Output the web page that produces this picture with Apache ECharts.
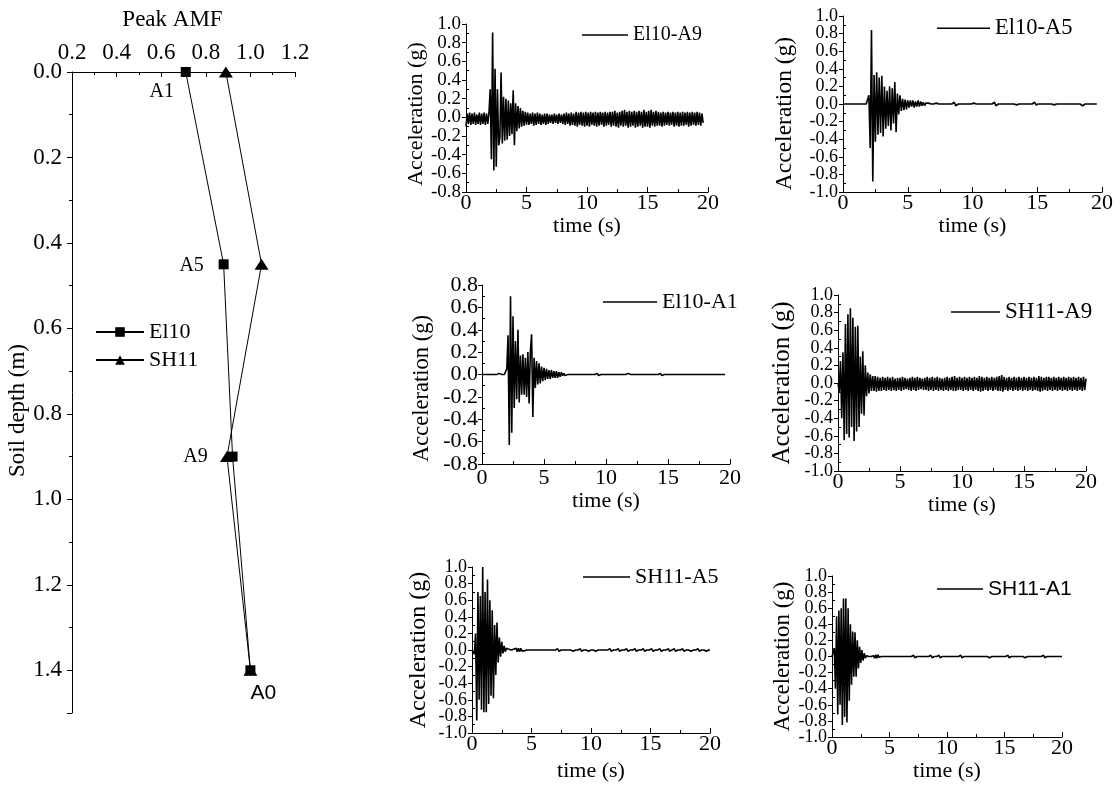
<!DOCTYPE html>
<html>
<head>
<meta charset="utf-8">
<script src="https://cdn.jsdelivr.net/npm/echarts@6/dist/echarts.min.js"></script>
<style>
html,body{margin:0;padding:0;background:#fff;}
#chart{width:1120px;height:785px;}
</style>
</head>
<body>
<div id="chart"></div>
<script>
const SERIF = 'Liberation Serif';
const SANS = 'Liberation Sans';

// ---------- Left panel: peak AMF profile ----------
const depths = [0, 0.45, 0.9, 1.4];            // soil depth (m)
const pointNames = ['A1', 'A5', 'A9', 'A0'];
const amfEl10 = [0.71, 0.88, 0.92, 1.0];
const amfSH11 = [0.89, 1.05, 0.895, 1.0];

// ---------- Acceleration records (values in 0.01 g, sampled every DT s) ----------
const DT = 0.1;
const el10A9 = [
-10,4,-7,5,-8,4,-7,5,-8,3,
-7,5,-8,4,-7,5,-8,4,-7,5,
30,-45,91,-57,52,-53,30,-30,-22,48,
-28,22,-25,20,-24,18,-20,15,-18,29,
-30,15,-15,12,-12,10,-10,7,-9,6,
-8,5,-8,4,-7,5,-9,4,-8,5,
-7,4,-8,3,-7,4,-8,4,-7,3,
-6,3,-7,4,-6,3,-7,4,-6,3,
-7,4,-8,5,-7,4,-9,5,-8,4,
-9,6,-10,5,-8,6,-9,5,-10,6,
-9,5,-10,6,-8,5,-9,6,-10,5,
-9,6,-8,5,-10,6,-9,5,-8,6,
-10,6,-9,7,-10,5,-11,6,-9,7,
-10,8,-9,6,-11,7,-10,6,-9,7,
-11,6,-10,7,-9,6,-11,8,-10,6,
-10,7,-11,8,-9,6,-10,7,-9,6,
-9,5,-10,6,-9,5,-8,6,-9,5,
-8,6,-10,5,-9,6,-10,5,-9,6,
-9,5,-8,6,-10,5,-9,6,-8,5,
-9,6,-8,5,-9,4,-6
];
const el10A5 = [
0,0,0,0,0,0,0,0,0,0,
0,0,0,0,0,1,0,0,0,0,
10,-50,84,-88,33,-43,36,-35,30,-33,
32,-37,20,-28,15,-25,20,-30,18,-22,
25,-32,12,-12,10,-8,6,-7,5,-6,
4,-4,4,-3,4,-4,3,-3,4,-3,
3,-2,2,-2,1,-1,1,-1,0,0,
0,0,1,-1,0,0,0,0,0,0,
0,0,0,0,0,0,2,-2,0,0,
0,0,0,0,0,0,0,0,0,0,
0,1,-1,0,0,0,0,0,0,0,
0,0,0,0,0,0,0,2,-2,0,
0,0,0,0,0,0,0,0,0,0,
0,0,0,1,-1,0,0,0,0,0,
0,0,0,0,0,0,0,0,2,-1,
0,0,0,0,0,0,0,0,0,0,
0,0,1,-1,0,0,0,0,0,0,
0,0,0,0,0,0,0,0,0,0,
0,0,0,0,2,-2,0,0,0,0,
0,0,0,0,0,0,0
];
const el10A1 = [
0,0,0,0,0,0,0,0,0,0,
0,0,0,0,1,0,0,0,0,0,
5,35,-63,70,-52,52,-30,30,-22,40,
-25,17,-18,18,-18,15,-20,20,-26,20,
36,-38,15,-12,12,-9,10,-8,7,-6,
6,-5,5,-4,4,-4,4,-3,3,-3,
3,-3,2,-2,2,-1,1,-1,0,0,
0,0,0,0,0,0,1,0,0,0,
0,0,0,0,0,0,0,0,0,0,
0,0,0,1,-1,0,0,0,0,0,
0,0,0,0,0,0,0,0,0,0,
0,0,0,0,0,0,0,0,1,0,
0,0,0,0,0,0,0,0,0,0,
0,0,0,0,0,0,0,0,0,0,
0,0,0,0,1,-1,0,0,0,0,
0,0,0,0,0,0,0,0,0,0,
0,0,0,0,0,0,0,0,0,0,
0,0,1,0,0,0,0,0,0,0,
0,0,0,0,0,0,0,0,0,0,
0,0,0,0,0,0,0
];
const sh11A9 = [
0,-10,25,-40,35,-65,67,-58,78,-62,
85,-50,74,-66,64,-55,65,-50,30,-35,
36,-37,20,-15,12,-12,10,-9,8,-9,
8,-10,7,-9,6,-9,7,-8,6,-9,
7,-8,6,-9,7,-8,5,-9,6,-8,
6,-9,7,-8,6,-7,5,-8,6,-9,
7,-8,6,-9,7,-8,6,-7,5,-8,
6,-8,7,-9,6,-8,7,-9,6,-8,
7,-9,6,-8,5,-9,6,-8,7,-9,
6,-8,7,-9,8,-9,6,-8,7,-8,
6,-9,7,-8,6,-9,7,-8,6,-9,
7,-8,6,-9,8,-10,7,-9,6,-8,
7,-9,6,-8,7,-9,6,-8,7,-9,
8,-9,9,-10,7,-8,6,-9,7,-8,
6,-9,7,-8,6,-9,7,-8,6,-9,
7,-8,6,-9,7,-8,6,-9,7,-8,
6,-9,8,-10,7,-9,6,-8,7,-9,
7,-8,6,-9,7,-8,6,-9,7,-8,
6,-9,7,-8,6,-9,7,-8,6,-9,
7,-8,6,-9,7,-8,6,-9,7,-8,
5
];
const sh11A5 = [
0,1,-5,20,-85,70,-60,65,-72,100,
-75,70,-75,85,-65,60,-55,48,-58,30,
-30,33,-15,15,-8,10,-4,5,-2,2,
0,1,-1,0,0,1,-1,2,-2,2,
-2,2,-1,1,-1,0,0,0,0,0,
0,0,0,0,0,0,0,0,0,0,
0,0,0,0,0,0,0,0,0,0,
0,0,1.5,-1.5,0,0,0,0,0,0,
0,0,0,0,1.5,-1.5,0,0,0,0,
0,1.5,-1.5,0,0,0,0,1.5,-1.5,0,
0,0,0,1.5,-1.5,0,0,0,0,0,
0,0,0,0,0,0,1.5,-1.5,0,0,
0,0,0,1.5,-1.5,0,0,0,0,0,
1.5,-1.5,0,0,0,0,0,1.5,-1.5,0,
0,0,0,0,1.5,-1.5,0,0,0,0,
0,1.5,-1.5,0,0,0,0,0,1.5,-1.5,
0,0,0,0,0,1.5,-1.5,0,0,0,
1.5,-1.5,0,0,0,0,0,1.5,-1.5,0,
0,0,0,1.5,-1.5,0,0,0,0,0,
1.5,-1.5,0,0,0,0,1.5,-1.5,0,0,
0
];
const sh11A1 = [
0,-1,10,-40,50,-72,57,-60,60,-85,
72,-75,72,-82,60,-55,40,-35,31,-25,
30,-25,20,-15,12,-8,8,-5,4,-2,
1,-1,0,0,0,0,1,-2,2,-2,
2,-1,1,0,0,0,0,0,0,0,
0,0,0,0,0,0,0,0,0,0,
0,0,0,0,0,0,0,0,0,0,
0,1.5,-1.5,0,0,0,0,0,0,0,
0,0,0,0,0,0,1.5,-1.5,0,0,
0,0,0,1.5,-1.5,0,0,0,0,0,
0,0,0,0,0,0,0,0,0,0,
0,0,1.5,-1.5,0,0,0,0,0,0,
0,0,0,0,0,0,0,0,0,0,
0,0,0,0,0,0,1.5,-1.5,0,0,
0,0,0,0,0,0,0,0,0,0,
0,0,0,1.5,-1.5,0,0,0,0,0,
0,0,0,0,0,0,0,1.5,-1.5,0,
0,0,0,0,0,0,0,0,0,0,
0,0,0,0,1.5,-1.5,0,0,0,0,
0,0,0,0,0,0,0,0,0,0,
0
];

// ---------- Layout of the six record panels ----------
const panels = [
  { name: 'El10-A9', values: el10A9, yMin: -0.8, yMax: 1.0,
    grid: { left: 466, top: 24, width: 242, height: 168 },
    yLabelFont: 19, yLabelMargin: 5, xLabelMargin: 0, yNameFont: 22, yNameGap: 39, yNameShift: 12, xNameGap: 17,
    legendLeft: 582, legendY: 35, legendW: 46, legendFont: 20, legendFamily: SERIF },
  { name: 'El10-A5', values: el10A5, yMin: -1.0, yMax: 1.0,
    grid: { left: 843, top: 16, width: 259, height: 176 },
    yLabelFont: 18, yLabelMargin: 5, xLabelMargin: 0, yNameFont: 23.5, yNameGap: 46, yNameShift: 19, xNameGap: 18,
    legendLeft: 937, legendY: 28, legendW: 53, legendFont: 22.5, legendFamily: SERIF },
  { name: 'El10-A1', values: el10A1, yMin: -0.8, yMax: 0.8,
    grid: { left: 482, top: 285, width: 248, height: 179 },
    yLabelFont: 22, yLabelMargin: 4, xLabelMargin: 3, yNameFont: 22.5, yNameGap: 48, yNameShift: 28, xNameGap: 20,
    legendLeft: 603, legendY: 302, legendW: 54, legendFont: 22, legendFamily: SERIF },
  { name: 'SH11-A9', values: sh11A9, yMin: -1.0, yMax: 1.0,
    grid: { left: 838, top: 295, width: 248, height: 176 },
    yLabelFont: 18, yLabelMargin: 5, xLabelMargin: 0, yNameFont: 25, yNameGap: 43, yNameShift: 0, xNameGap: 14,
    legendLeft: 951, legendY: 312, legendW: 49, legendFont: 23, legendFamily: SERIF },
  { name: 'SH11-A5', values: sh11A5, yMin: -1.0, yMax: 1.0,
    grid: { left: 472, top: 567, width: 238, height: 166 },
    yLabelFont: 18, yLabelMargin: 5, xLabelMargin: 0, yNameFont: 24, yNameGap: 41, yNameShift: 0, xNameGap: 27,
    legendLeft: 583, legendY: 577, legendW: 47, legendFont: 22, legendFamily: SERIF },
  { name: 'SH11-A1', values: sh11A1, yMin: -1.0, yMax: 1.0,
    grid: { left: 832, top: 576, width: 230, height: 161 },
    yLabelFont: 18, yLabelMargin: 5, xLabelMargin: 0, yNameFont: 23, yNameGap: 38, yNameShift: 0, xNameGap: 22,
    legendLeft: 937, legendY: 589, legendW: 46, legendFont: 21, legendFamily: SANS }
];

const BLACK = '#000';
const fmt1 = v => (Math.abs(v) < 1e-9 ? 0 : v).toFixed(1);
const isMultiple = (v, step) => Math.abs(v / step - Math.round(v / step)) < 1e-6;
const toPairs = cg => cg.map((v, i) => [Math.round(i * DT * 10) / 10, v / 100]);

const grids = [{ left: 72, top: 72, width: 223, height: 641, containLabel: false, outerBoundsMode: 'none' }]
  .concat(panels.map(p => Object.assign({ containLabel: false, outerBoundsMode: 'none' }, p.grid)));

const xAxes = [{
  gridIndex: 0, type: 'value', position: 'top', min: 0.2, max: 1.2, interval: 0.2,
  name: 'Peak AMF', nameLocation: 'middle', nameGap: 41,
  nameTextStyle: { fontFamily: SERIF, fontSize: 23, color: BLACK, padding: [0, 22, 0, 0] },
  axisLine: { show: true, onZero: false, lineStyle: { color: BLACK, width: 1 } },
  axisTick: { show: true, inside: true, length: 5, lineStyle: { color: BLACK } },
  minorTick: { show: true, splitNumber: 2, length: 3, lineStyle: { color: BLACK } },
  axisLabel: { fontFamily: SERIF, fontSize: 23, color: BLACK, margin: 8, formatter: fmt1,
    showMinLabel: true, showMaxLabel: true },
  splitLine: { show: false }, minorSplitLine: { show: false }
}].concat(panels.map((p, i) => ({
  gridIndex: i + 1, type: 'value', position: 'bottom', min: 0, max: 20, interval: 5,
  name: 'time (s)', nameLocation: 'middle', nameGap: p.xNameGap,
  nameTextStyle: { fontFamily: SERIF, fontSize: 22, color: BLACK },
  axisLine: { show: true, onZero: false, lineStyle: { color: BLACK, width: 1 } },
  axisTick: { show: true, inside: true, length: 5, lineStyle: { color: BLACK } },
  minorTick: { show: true, splitNumber: 2, length: 3, lineStyle: { color: BLACK } },
  axisLabel: { fontFamily: SERIF, fontSize: 22, color: BLACK, margin: p.xLabelMargin,
    showMinLabel: true, showMaxLabel: true },
  splitLine: { show: false }, minorSplitLine: { show: false }
})));

// Each record panel gets a main y axis (line, ticks, every other label) and an
// overlaid label-only twin carrying the remaining labels, so no label is dropped.
const mainY = panels.map((p, i) => ({
  gridIndex: i + 1, type: 'value', position: 'left', min: p.yMin, max: p.yMax, interval: 0.2,
  name: 'Acceleration (g)', nameLocation: 'middle', nameGap: p.yNameGap, nameRotate: 90,
  nameTextStyle: { fontFamily: SERIF, fontSize: p.yNameFont, color: BLACK, padding: [0, p.yNameShift, 0, 0] },
  axisLine: { show: true, onZero: false, lineStyle: { color: BLACK, width: 1 } },
  axisTick: { show: true, inside: false, length: 4, lineStyle: { color: BLACK } },
  minorTick: { show: true, splitNumber: 2, length: -3, lineStyle: { color: BLACK } },
  axisLabel: { fontFamily: SERIF, fontSize: p.yLabelFont, color: BLACK, margin: p.yLabelMargin,
    showMinLabel: true, showMaxLabel: true,
    formatter: v => isMultiple(v - p.yMin, 0.4) ? fmt1(v) : '' },
  splitLine: { show: false }, minorSplitLine: { show: false }
}));
const twinY = panels.map((p, i) => ({
  gridIndex: i + 1, type: 'value', position: 'left', offset: 0, min: p.yMin, max: p.yMax, interval: 0.2,
  axisLine: { show: false, onZero: false }, axisTick: { show: false }, minorTick: { show: false },
  axisLabel: { fontFamily: SERIF, fontSize: p.yLabelFont, color: BLACK, margin: p.yLabelMargin,
    showMinLabel: true, showMaxLabel: true,
    formatter: v => isMultiple(v - p.yMin, 0.4) ? '' : fmt1(v) },
  splitLine: { show: false }, minorSplitLine: { show: false }
}));

const yAxes = [{
  gridIndex: 0, type: 'value', inverse: true, min: 0, max: 1.5, interval: 0.2,
  name: 'Soil depth (m)', nameLocation: 'middle', nameGap: 41, nameRotate: 90,
  nameTextStyle: { fontFamily: SERIF, fontSize: 23, color: BLACK, padding: [0, 36, 0, 0] },
  axisLine: { show: true, onZero: false, lineStyle: { color: BLACK, width: 1 } },
  axisTick: { show: true, inside: false, length: 5, lineStyle: { color: BLACK } },
  minorTick: { show: true, splitNumber: 2, length: 3, lineStyle: { color: BLACK } },
  axisLabel: { fontFamily: SERIF, fontSize: 23, color: BLACK, margin: 10,
    showMinLabel: true, showMaxLabel: true,
    formatter: v => isMultiple(v, 0.2) ? fmt1(v) : '' },
  splitLine: { show: false }, minorSplitLine: { show: false }
}].concat(mainY, twinY);

const labelOffsets = [[-24, 20], [-32, 1], [-37, 0], [13, 23]];
const labelFamilies = [SERIF, SERIF, SERIF, SANS];
const labelSizes = [20, 20, 20, 21];

const profileSeries = [
  { name: 'El10', type: 'line', xAxisIndex: 0, yAxisIndex: 0,
    symbol: 'rect', symbolSize: 10, showSymbol: true, clip: false,
    lineStyle: { color: BLACK, width: 1 }, itemStyle: { color: BLACK },
    data: amfEl10.map((v, i) => ({
      value: [v, depths[i]],
      label: { show: true, position: 'inside', formatter: pointNames[i], offset: labelOffsets[i],
        fontFamily: labelFamilies[i], fontSize: labelSizes[i], color: BLACK }
    })),
    z: 3 },
  { name: 'SH11', type: 'line', xAxisIndex: 0, yAxisIndex: 0,
    symbol: 'triangle', symbolSize: [14, 11], showSymbol: true, clip: false,
    lineStyle: { color: BLACK, width: 1 }, itemStyle: { color: BLACK },
    data: amfSH11.map((v, i) => [v, depths[i]]), z: 3 }
];

const recordSeries = panels.map((p, i) => ({
  name: p.name, type: 'line', xAxisIndex: i + 1, yAxisIndex: i + 1,
  symbol: 'none', showSymbol: false, clip: true,
  lineStyle: { color: BLACK, width: 1.6 }, itemStyle: { color: BLACK },
  data: toPairs(p.values)
}));

const legends = [{
  data: ['El10', 'SH11'], orient: 'vertical', left: 95, top: 321, padding: 0,
  itemWidth: 48, itemHeight: 12, itemGap: 6, selectedMode: false,
  textStyle: { fontFamily: SERIF, fontSize: 22, color: BLACK }
}].concat(panels.map(p => ({
  data: [{ name: p.name, icon: 'rect' }], left: p.legendLeft, top: p.legendY - p.legendFont / 2,
  padding: 0, itemWidth: p.legendW, itemHeight: 1.5, selectedMode: false,
  textStyle: { fontFamily: p.legendFamily, fontSize: p.legendFont, color: BLACK }
})));

const chart = echarts.init(document.getElementById('chart'), null, { renderer: 'canvas' });
chart.setOption({
  animation: false,
  backgroundColor: '#fff',
  color: [BLACK],
  textStyle: { fontFamily: SERIF, color: BLACK },
  grid: grids,
  xAxis: xAxes,
  yAxis: yAxes,
  legend: legends,
  series: profileSeries.concat(recordSeries)
});
</script>
</body>
</html>
